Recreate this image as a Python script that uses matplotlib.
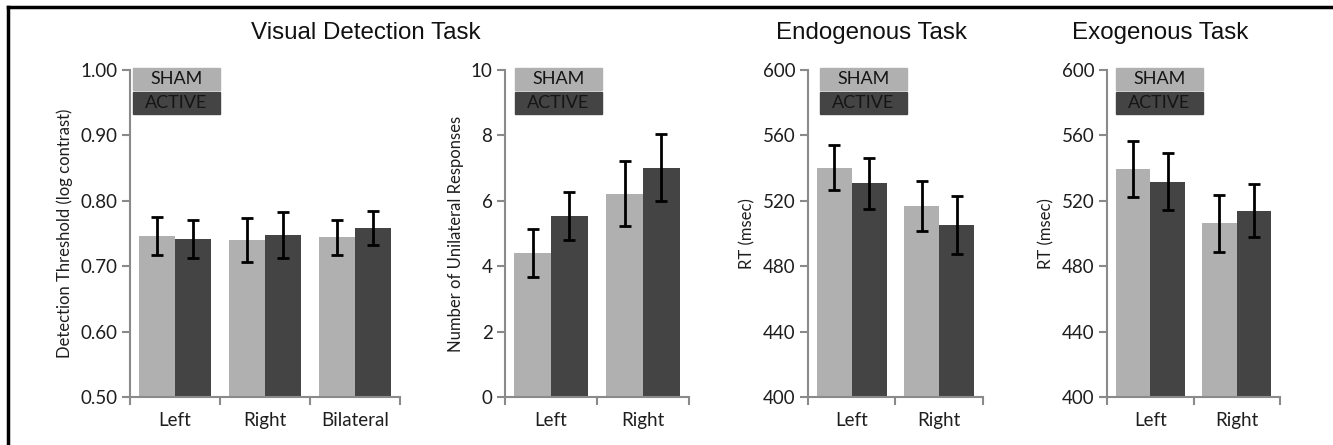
import numpy as np
import matplotlib.pyplot as plt
from matplotlib.patches import Rectangle
from matplotlib.lines import Line2D

# Daten
visual_cats = ["Left", "Right", "Bilateral"]
visual_sham = [0.746, 0.740, 0.744]
visual_sham_err = [0.029, 0.034, 0.027]
visual_active = [0.741, 0.748, 0.759]
visual_active_err = [0.029, 0.035, 0.026]

unilat_cats = ["Left", "Right"]
unilat_sham = [4.41, 6.22]
unilat_sham_err = [0.74, 1.0]
unilat_active = [5.53, 7.01]
unilat_active_err = [0.74, 1.02]

endo_cats = ["Left", "Right"]
endo_sham = [540.2, 516.8]
endo_sham_err = [13.8, 15.5]
endo_active = [530.7, 505.0]
endo_active_err = [15.7, 17.7]

exo_cats = ["Left", "Right"]
exo_sham = [539.6, 506.2]
exo_sham_err = [17.2, 17.6]
exo_active = [531.7, 514.0]
exo_active_err = [17.5, 16.4]

SHAM_COL = "#b0b0b0"
ACTIVE_COL = "#444444"
AXIS_COL = "#8a8a8a"
TEXT_COL = "#1e1e1e"
FONT = "Lato"

W, H = 1333, 445
fig = plt.figure(figsize=(W / 100, H / 100), dpi=100)


def px_axes(x0, x1, y0=70, y1=397):
    return fig.add_axes([x0 / W, 1 - y1 / H, (x1 - x0) / W, (y1 - y0) / H])


def draw_panel(ax, cats, sham, sham_err, active, active_err, ylim, yticks, fmt, ylabel):
    n = len(cats)
    x = np.arange(n)
    w = 0.4
    ax.bar(x - w / 2, sham, w, color=SHAM_COL, zorder=2)
    ax.bar(x + w / 2, active, w, color=ACTIVE_COL, zorder=2)
    ax.errorbar(x - w / 2, sham, yerr=sham_err, fmt="none", ecolor="black",
                elinewidth=2, capsize=4, capthick=2, zorder=3)
    ax.errorbar(x + w / 2, active, yerr=active_err, fmt="none", ecolor="black",
                elinewidth=2, capsize=4, capthick=2, zorder=3)
    ax.set_xlim(-0.5, n - 0.5)
    ax.set_ylim(*ylim)
    ax.set_yticks(yticks)
    ax.set_yticklabels([fmt.format(v) for v in yticks])
    ax.set_xticks(x)
    ax.set_xticklabels(cats)
    ax.set_xticks(np.arange(n + 1) - 0.5, minor=True)
    ax.tick_params(axis="x", which="major", length=0, pad=11)
    ax.tick_params(axis="x", which="minor", length=6, width=1.5, color=AXIS_COL, direction="out")
    ax.tick_params(axis="y", length=6, width=1.5, color=AXIS_COL, direction="out", pad=3)
    ax.tick_params(labelsize=13.5, labelcolor=TEXT_COL)
    for lab in ax.get_xticklabels() + ax.get_yticklabels():
        lab.set_family(FONT)
    for s in ["top", "right"]:
        ax.spines[s].set_visible(False)
    for s in ["left", "bottom"]:
        ax.spines[s].set_color(AXIS_COL)
        ax.spines[s].set_linewidth(1.5)
    ax.set_ylabel(ylabel, fontsize=12, family=FONT, color=TEXT_COL, labelpad=5)


ax1 = px_axes(130, 400)
draw_panel(ax1, visual_cats, visual_sham, visual_sham_err, visual_active, visual_active_err,
           (0.5, 1.0), [0.5, 0.6, 0.7, 0.8, 0.9, 1.0], "{:.2f}", "Detection Threshold (log contrast)")
ax2 = px_axes(505, 689)
draw_panel(ax2, unilat_cats, unilat_sham, unilat_sham_err, unilat_active, unilat_active_err,
           (0, 10), [0, 2, 4, 6, 8, 10], "{:d}", "Number of Unilateral Responses")
ax3 = px_axes(808, 983)
draw_panel(ax3, endo_cats, endo_sham, endo_sham_err, endo_active, endo_active_err,
           (400, 600), [400, 440, 480, 520, 560, 600], "{:d}", "RT (msec)")
ax4 = px_axes(1107, 1280)
draw_panel(ax4, exo_cats, exo_sham, exo_sham_err, exo_active, exo_active_err,
           (400, 600), [400, 440, 480, 520, 560, 600], "{:d}", "RT (msec)")

# Legendenkaesten
for lx in [133, 515, 820, 1116]:
    for (y0, y1, col, txt) in [(68, 90, SHAM_COL, "SHAM"), (92, 114, ACTIVE_COL, "ACTIVE")]:
        fig.add_artist(Rectangle((lx / W, 1 - y1 / H), 87 / W, (y1 - y0) / H,
                                 transform=fig.transFigure, color=col, zorder=5))
        fig.text((lx + 43.5) / W, 1 - (y0 + y1) / 2 / H, txt, ha="center", va="center",
                 fontsize=13, family=FONT, color="#151515", zorder=6)

# Titel
for tx, title in [(366, "Visual Detection Task"), (871, "Endogenous Task"), (1160, "Exogenous Task")]:
    fig.text(tx / W, 1 - 33 / H, title, ha="center", va="center",
             fontsize=17.4, family="Liberation Sans", color="#111111")

# Rahmen oben und links
fig.add_artist(Line2D([8 / W, 1], [1 - 7 / H, 1 - 7 / H], transform=fig.transFigure,
                      color="black", linewidth=2.5))
fig.add_artist(Line2D([8 / W, 8 / W], [0, 1 - 7 / H], transform=fig.transFigure,
                      color="black", linewidth=2.5))

fig.savefig("out.png", dpi=100)
